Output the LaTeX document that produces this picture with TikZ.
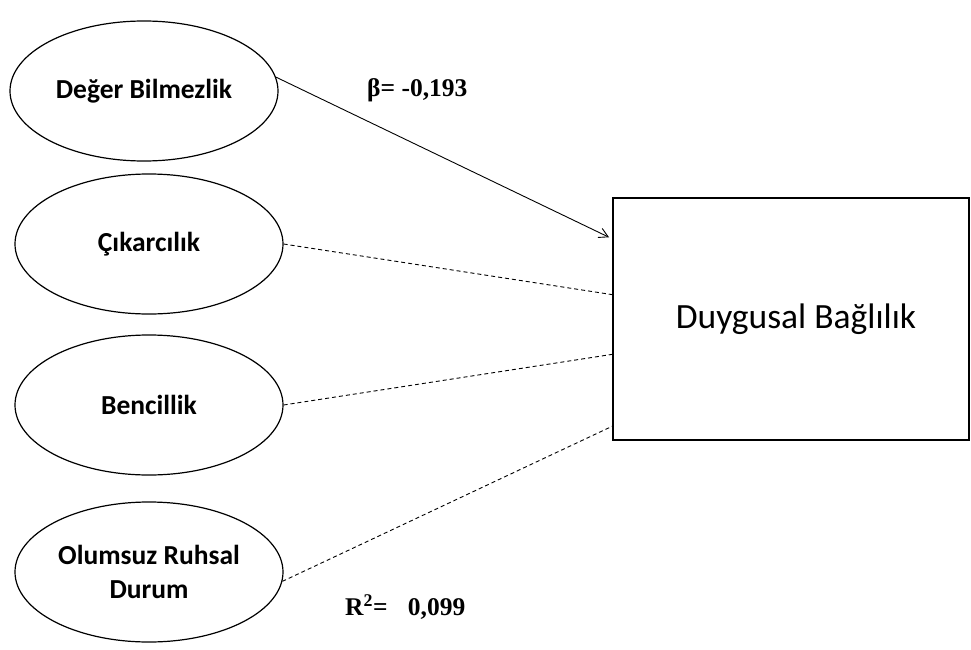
\documentclass[tikz,border=0pt]{standalone}
\usepackage{fontspec}
\setmainfont{Liberation Serif}
\newfontfamily\calibri{Carlito}
\usetikzlibrary{shapes.geometric,arrows.meta,calc}
\begin{document}
\begin{tikzpicture}[x=1pt,y=-1pt,
  factor/.style={ellipse,draw,line width=1.2pt,minimum width=268pt,minimum height=140pt,
    inner sep=0pt,align=center,font=\calibri\bfseries\fontsize{27.5}{34}\selectfont},
  outcome/.style={rectangle,draw,line width=2pt,minimum width=356pt,minimum height=242pt,
    inner sep=0pt,font=\calibri\fontsize{35.5}{40}\selectfont},
  dashlink/.style={line width=0.9pt,dash pattern=on 4pt off 3pt},
  coef/.style={font=\bfseries\fontsize{25.5}{30}\selectfont,anchor=west,inner sep=0pt}]
\useasboundingbox (0,0) rectangle (971,650);
% predictors
\node[factor] (e1) at (144,91) {Değer Bilmezlik};
\node[factor] (e2) at (149,244) {Çıkarcılık};
\node[factor] (e3) at (149,405) {Bencillik};
\node[factor] (e4) at (149,572) {Olumsuz Ruhsal\\Durum};
% outcome
\node[outcome] (dv) at (791,319) {\hspace*{10pt}Duygusal Bağlılık};
% entry points on the outcome's left side
\coordinate (t1) at ($(dv.north west)!0.165!(dv.south west)$);
\coordinate (t2) at ($(dv.north west)!0.40!(dv.south west)$);
\coordinate (t3) at ($(dv.north west)!0.645!(dv.south west)$);
\coordinate (t4) at ($(dv.north west)!0.94!(dv.south west)$);
% paths
\draw[line width=0.9pt,-{Straight Barb[length=9pt,width=10pt]}] (e1.6) -- ($(t1)+(-3,0)$);
\draw[dashlink] (e2.east) -- (t2);
\draw[dashlink] (e3.east) -- (t3);
\draw[dashlink] (e4.-4) -- (t4);
% coefficients
\node[coef] (beta) at (367,90) {β= -0,193};
\node[coef] (rsq) at (345,607) {R\textsuperscript{2}=\hspace{0.8em}0,099};
\end{tikzpicture}
\end{document}
